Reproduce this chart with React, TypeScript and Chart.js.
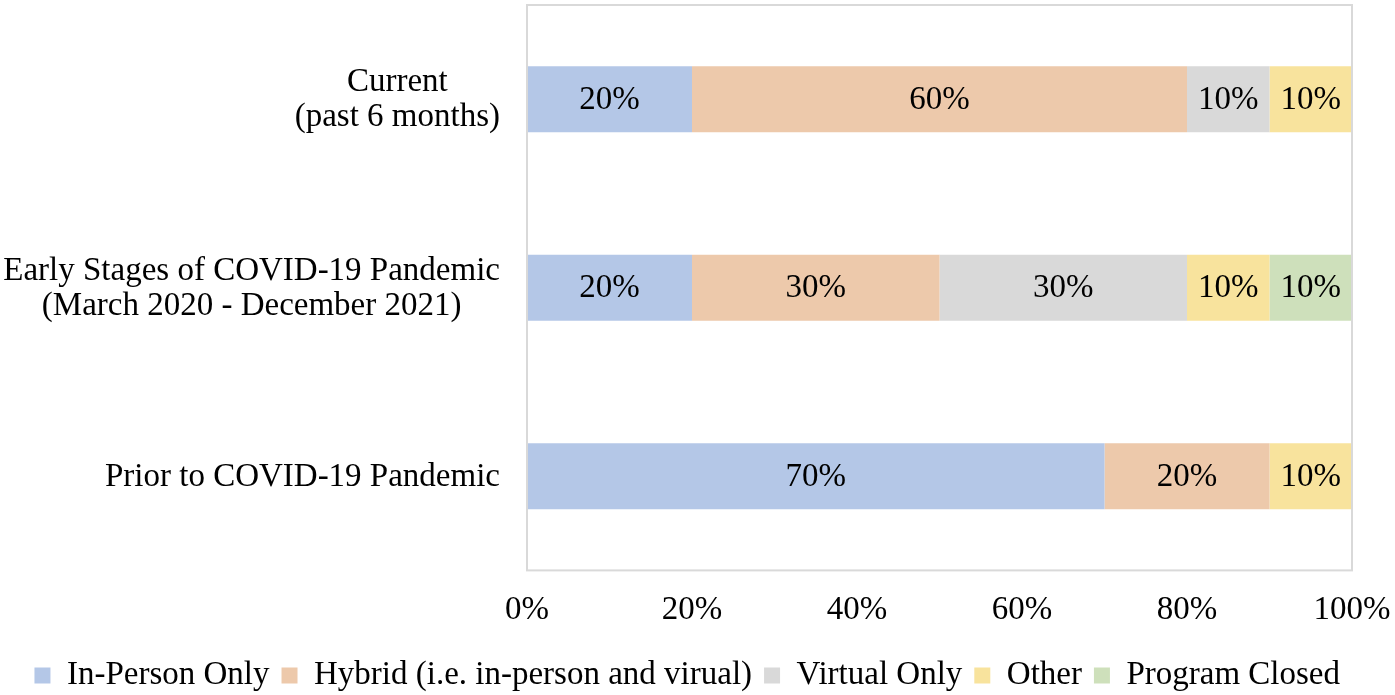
import React, { useEffect, useRef } from "react";
import { Chart, registerables } from "chart.js";

Chart.register(...registerables);

const categories: string[][] = [
  ["Current", "(past 6 months)"],
  ["Early Stages of COVID-19 Pandemic", "(March 2020 - December 2021)"],
  ["Prior to COVID-19 Pandemic"],
];
const seriesNames = [
  "In-Person Only",
  "Hybrid (i.e. in-person and virual)",
  "Virtual Only",
  "Other",
  "Program Closed",
];
const inPerson = [20, 20, 70];
const hybrid = [60, 30, 20];
const virtualOnly = [10, 30, 0];
const other = [10, 10, 10];
const closed = [0, 10, 0];
const xTicks = [0, 20, 40, 60, 80, 100];

const colors = ["#B4C7E7", "#EDC9AB", "#D9D9D9", "#F8E39D", "#CEE0BB"];
const FONT = "'Liberation Serif', 'Times New Roman', serif";
const FS = 33;

export default function App() {
  const ref = useRef<HTMLCanvasElement | null>(null);
  useEffect(() => {
    document.body.style.margin = "0";
    const values = [inPerson, hybrid, virtualOnly, other, closed];
    const labelPlugin = {
      id: "labels",
      afterDatasetsDraw(chart: any) {
        const ctx = chart.ctx;
        ctx.save();
        ctx.font = `${FS}px ${FONT}`;
        ctx.fillStyle = "#000";
        ctx.textAlign = "center";
        ctx.textBaseline = "middle";
        chart.data.datasets.forEach((ds: any, di: number) => {
          const meta = chart.getDatasetMeta(di);
          meta.data.forEach((el: any, i: number) => {
            const v = ds.data[i];
            if (!v) return;
            const x = (el.x + el.base) / 2;
            ctx.fillText(v + "%", x, el.y + 1);
          });
        });
        const a = chart.chartArea;
        ctx.strokeStyle = "#D9D9D9";
        ctx.lineWidth = 2;
        ctx.strokeRect(a.left, a.top, a.right - a.left, a.bottom - a.top);
        const ys = chart.scales.y;
        const rightEdge = a.left - 27;
        categories.forEach((lines, i) => {
          const cy = ys.getPixelForValue(i);
          const maxW = Math.max(...lines.map((l) => ctx.measureText(l).width));
          const cx = rightEdge - maxW / 2;
          const lh = 35;
          lines.forEach((l, j) => {
            ctx.fillText(l, cx, cy + 1 + (j - (lines.length - 1) / 2) * lh);
          });
        });
        ctx.restore();
      },
    };
    const chart = new Chart(ref.current!, {
      type: "bar",
      data: {
        labels: categories.map((c) => c.join(" ")),
        datasets: seriesNames.map((name, k) => ({
          label: name,
          data: values[k],
          backgroundColor: colors[k],
          borderWidth: 0,
          categoryPercentage: 1,
          barPercentage: 0.35,
        })),
      },
      options: {
        indexAxis: "y",
        responsive: false,
        animation: false,
        layout: { padding: { left: 0, right: 43, top: 5, bottom: -7 } },
        scales: {
          x: {
            stacked: true,
            min: 0,
            max: 100,
            afterBuildTicks: (s: any) => {
              s.ticks = xTicks.map((v) => ({ value: v }));
            },
            afterFit: (s: any) => {
              s.paddingLeft = 0;
              s.paddingRight = 0;
              s.height -= 3;
            },
            ticks: {
              color: "#000",
              font: { family: FONT, size: FS },
              padding: 20,
              callback: (v: any) => v + "%",
            },
            grid: { display: false, drawTicks: false },
            border: { display: false },
          },
          y: {
            stacked: true,
            afterFit: (s: any) => {
              s.width = 527;
            },
            ticks: { display: false },
            grid: { display: false, drawTicks: false },
            border: { display: false },
          },
        },
        plugins: {
          tooltip: { enabled: false },
          legend: {
            position: "bottom",
            align: "end",
            labels: {
              color: "#000",
              font: { family: FONT, size: FS },
              boxWidth: 16,
              boxHeight: 16,
              padding: 12,
            },
          },
        },
      } as any,
      plugins: [labelPlugin],
    });
    return () => chart.destroy();
  }, []);
  return <canvas ref={ref} width={1395} height={695} style={{ display: "block" }} />;
}
